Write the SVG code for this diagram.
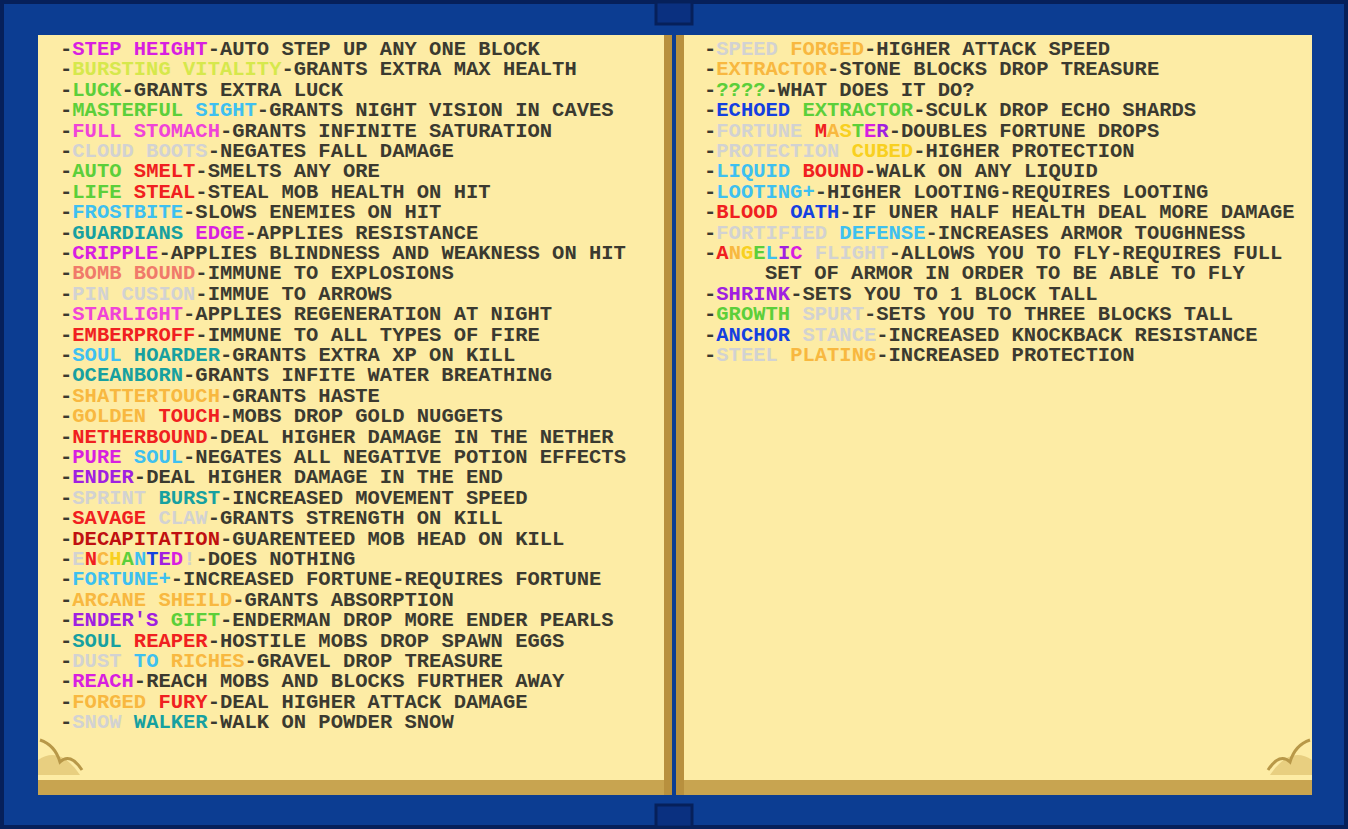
<svg xmlns="http://www.w3.org/2000/svg" width="1348" height="829" viewBox="0 0 1348 829">
<style>
text{font-family:"Liberation Mono","DejaVu Sans Mono",monospace;font-weight:bold;font-size:20.5px;fill:#3b3a30}
.m{fill:#d81fe0}.y{fill:#d6e84c}.g{fill:#5ccf3a}.lb{fill:#3ec0f0}.pk{fill:#f044d8}.gr{fill:#d2d2d2}.r{fill:#f02020}.t{fill:#17a0a0}.o{fill:#f8b840}.p{fill:#a020e0}.b{fill:#1440e0}.dr{fill:#c01010}.cu{fill:#f8d020}.lr{fill:#f07a6a}
</style>
<rect x="0" y="0" width="1348" height="829" fill="#0c3d92"/>
<rect x="2" y="2" width="1344" height="825" fill="none" stroke="#06205a" stroke-width="4"/>
<rect x="656" y="2" width="36" height="22" fill="#0a3080" stroke="#06205a" stroke-width="3"/>
<rect x="656" y="805" width="36" height="22" fill="#0a3080" stroke="#06205a" stroke-width="3"/>
<g id="left-page">
<path d="M38 35 H668 V795 H38 Z" fill="#c8a450"/>
<path d="M38 35 H664 V780 H38 Z" fill="#fdeca5"/>
<path d="M38 760 Q60 745 80 775 H38 Z" fill="#e8cf80"/>
<path d="M40 740 Q55 745 60 762 Q70 752 82 770" fill="none" stroke="#b89848" stroke-width="3"/>
<rect x="664" y="35" width="8" height="760" fill="#b8903e"/>
</g>
<g id="right-page">
<path d="M680 35 H1312 V795 H680 Z" fill="#c8a450"/>
<path d="M684 35 H1312 V780 H684 Z" fill="#fdeca5"/>
<path d="M1312 760 Q1290 745 1270 775 H1312 Z" fill="#e8cf80"/>
<path d="M1310 740 Q1295 745 1290 762 Q1280 752 1268 770" fill="none" stroke="#b89848" stroke-width="3"/>
<rect x="676" y="35" width="8" height="760" fill="#b8903e"/>
</g>
<g id="left-text">
<text x="60" y="55">-<tspan class="m">STEP HEIGHT</tspan>-AUTO STEP UP ANY ONE BLOCK</text>
<text x="60" y="75.4">-<tspan class="y">BURSTING VITALITY</tspan>-GRANTS EXTRA MAX HEALTH</text>
<text x="60" y="95.8">-<tspan class="g">LUCK</tspan>-GRANTS EXTRA LUCK</text>
<text x="60" y="116.2">-<tspan class="g">MASTERFUL</tspan> <tspan class="lb">SIGHT</tspan>-GRANTS NIGHT VISION IN CAVES</text>
<text x="60" y="136.6">-<tspan class="pk">FULL STOMACH</tspan>-GRANTS INFINITE SATURATION</text>
<text x="60" y="157">-<tspan class="gr">CLOUD BOOTS</tspan>-NEGATES FALL DAMAGE</text>
<text x="60" y="177.4">-<tspan class="g">AUTO</tspan> <tspan class="r">SMELT</tspan>-SMELTS ANY ORE</text>
<text x="60" y="197.8">-<tspan class="g">LIFE</tspan> <tspan class="r">STEAL</tspan>-STEAL MOB HEALTH ON HIT</text>
<text x="60" y="218.2">-<tspan class="lb">FROSTBITE</tspan>-SLOWS ENEMIES ON HIT</text>
<text x="60" y="238.6">-<tspan class="t">GUARDIANS</tspan> <tspan class="m">EDGE</tspan>-APPLIES RESISTANCE</text>
<text x="60" y="259">-<tspan class="m">CRIPPLE</tspan>-APPLIES BLINDNESS AND WEAKNESS ON HIT</text>
<text x="60" y="279.4">-<tspan class="lr">BOMB BOUND</tspan>-IMMUNE TO EXPLOSIONS</text>
<text x="60" y="299.8">-<tspan class="gr">PIN CUSION</tspan>-IMMUE TO ARROWS</text>
<text x="60" y="320.2">-<tspan class="pk">STARLIGHT</tspan>-APPLIES REGENERATION AT NIGHT</text>
<text x="60" y="340.6">-<tspan class="r">EMBERPROFF</tspan>-IMMUNE TO ALL TYPES OF FIRE</text>
<text x="60" y="361">-<tspan class="lb">SOUL</tspan> <tspan class="t">HOARDER</tspan>-GRANTS EXTRA XP ON KILL</text>
<text x="60" y="381.4">-<tspan class="t">OCEANBORN</tspan>-GRANTS INFITE WATER BREATHING</text>
<text x="60" y="401.8">-<tspan class="o">SHATTERTOUCH</tspan>-GRANTS HASTE</text>
<text x="60" y="422.2">-<tspan class="o">GOLDEN</tspan> <tspan class="r">TOUCH</tspan>-MOBS DROP GOLD NUGGETS</text>
<text x="60" y="442.6">-<tspan class="r">NETHERBOUND</tspan>-DEAL HIGHER DAMAGE IN THE NETHER</text>
<text x="60" y="463">-<tspan class="m">PURE</tspan> <tspan class="lb">SOUL</tspan>-NEGATES ALL NEGATIVE POTION EFFECTS</text>
<text x="60" y="483.4">-<tspan class="p">ENDER</tspan>-DEAL HIGHER DAMAGE IN THE END</text>
<text x="60" y="503.8">-<tspan class="gr">SPRINT</tspan> <tspan class="t">BURST</tspan>-INCREASED MOVEMENT SPEED</text>
<text x="60" y="524.2">-<tspan class="r">SAVAGE</tspan> <tspan class="gr">CLAW</tspan>-GRANTS STRENGTH ON KILL</text>
<text x="60" y="544.6">-<tspan class="dr">DECAPITATION</tspan>-GUARENTEED MOB HEAD ON KILL</text>
<text x="60" y="565">-<tspan class="gr">E</tspan><tspan class="r">N</tspan><tspan class="o">C</tspan><tspan class="cu">H</tspan><tspan class="g">A</tspan><tspan class="lb">N</tspan><tspan class="b">T</tspan><tspan class="p">E</tspan><tspan class="m">D</tspan><tspan class="gr">!</tspan>-DOES NOTHING</text>
<text x="60" y="585.4">-<tspan class="lb">FORTUNE+</tspan>-INCREASED FORTUNE-REQUIRES FORTUNE</text>
<text x="60" y="605.8">-<tspan class="o">ARCANE SHEILD</tspan>-GRANTS ABSORPTION</text>
<text x="60" y="626.2">-<tspan class="p">ENDER'S</tspan> <tspan class="g">GIFT</tspan>-ENDERMAN DROP MORE ENDER PEARLS</text>
<text x="60" y="646.6">-<tspan class="t">SOUL</tspan> <tspan class="r">REAPER</tspan>-HOSTILE MOBS DROP SPAWN EGGS</text>
<text x="60" y="667">-<tspan class="gr">DUST</tspan> <tspan class="lb">TO</tspan> <tspan class="o">RICHES</tspan>-GRAVEL DROP TREASURE</text>
<text x="60" y="687.4">-<tspan class="m">REACH</tspan>-REACH MOBS AND BLOCKS FURTHER AWAY</text>
<text x="60" y="707.8">-<tspan class="o">FORGED</tspan> <tspan class="r">FURY</tspan>-DEAL HIGHER ATTACK DAMAGE</text>
<text x="60" y="728.2">-<tspan class="gr">SNOW</tspan> <tspan class="t">WALKER</tspan>-WALK ON POWDER SNOW</text>
</g>
<g id="right-text">
<text x="704" y="55">-<tspan class="gr">SPEED</tspan> <tspan class="o">FORGED</tspan>-HIGHER ATTACK SPEED</text>
<text x="704" y="75.4">-<tspan class="o">EXTRACTOR</tspan>-STONE BLOCKS DROP TREASURE</text>
<text x="704" y="95.8">-<tspan class="g">????</tspan>-WHAT DOES IT DO?</text>
<text x="704" y="116.2">-<tspan class="b">ECHOED</tspan> <tspan class="g">EXTRACTOR</tspan>-SCULK DROP ECHO SHARDS</text>
<text x="704" y="136.6">-<tspan class="gr">FORTUNE</tspan> <tspan class="r">M</tspan><tspan class="o">A</tspan><tspan class="cu">S</tspan><tspan class="g">T</tspan><tspan class="m">E</tspan><tspan class="p">R</tspan>-DOUBLES FORTUNE DROPS</text>
<text x="704" y="157">-<tspan class="gr">PROTECTION</tspan> <tspan class="cu">CUBED</tspan>-HIGHER PROTECTION</text>
<text x="704" y="177.4">-<tspan class="lb">LIQUID</tspan> <tspan class="r">BOUND</tspan>-WALK ON ANY LIQUID</text>
<text x="704" y="197.8">-<tspan class="lb">LOOTING+</tspan>-HIGHER LOOTING-REQUIRES LOOTING</text>
<text x="704" y="218.2">-<tspan class="r">BLOOD</tspan> <tspan class="b">OATH</tspan>-IF UNER HALF HEALTH DEAL MORE DAMAGE</text>
<text x="704" y="238.6">-<tspan class="gr">FORTIFIED</tspan> <tspan class="lb">DEFENSE</tspan>-INCREASES ARMOR TOUGHNESS</text>
<text x="704" y="259">-<tspan class="r">A</tspan><tspan class="o">N</tspan><tspan class="cu">G</tspan><tspan class="g">E</tspan><tspan class="lb">L</tspan><tspan class="p">I</tspan><tspan class="m">C</tspan> <tspan class="gr">FLIGHT</tspan>-ALLOWS YOU TO FLY-REQUIRES FULL</text>
<text x="765" y="279.4">SET OF ARMOR IN ORDER TO BE ABLE TO FLY</text>
<text x="704" y="299.8">-<tspan class="p">SHRINK</tspan>-SETS YOU TO 1 BLOCK TALL</text>
<text x="704" y="320.2">-<tspan class="g">GROWTH</tspan> <tspan class="gr">SPURT</tspan>-SETS YOU TO THREE BLOCKS TALL</text>
<text x="704" y="340.6">-<tspan class="b">ANCHOR</tspan> <tspan class="gr">STANCE</tspan>-INCREASED KNOCKBACK RESISTANCE</text>
<text x="704" y="361">-<tspan class="gr">STEEL</tspan> <tspan class="o">PLATING</tspan>-INCREASED PROTECTION</text>
</g>
</svg>
